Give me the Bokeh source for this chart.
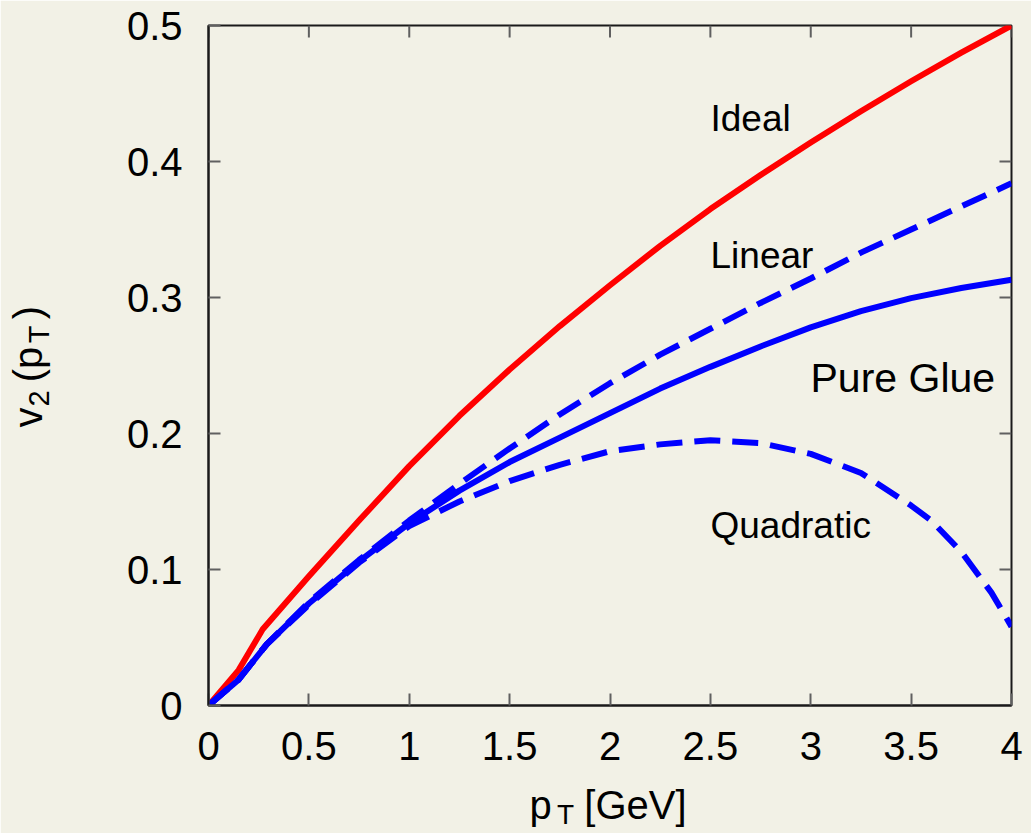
from bokeh.plotting import figure
from bokeh.models import Range1d, FixedTicker, LinearAxis, Label
from bokeh.embed import file_html
from bokeh.resources import INLINE

# ---------------- data ----------------
ideal_x = [0, 0.15, 0.27, 0.5, 0.75, 1.0, 1.25, 1.5, 1.75, 2.0, 2.25, 2.5, 2.75, 3.0, 3.25, 3.5, 3.75, 4.0]
ideal_y = [0, 0.026, 0.056, 0.095, 0.136, 0.176, 0.213, 0.247, 0.279, 0.309, 0.338, 0.365, 0.390, 0.414, 0.437, 0.459, 0.480, 0.500]

linear_x = [0, 0.15, 0.29, 0.5, 0.75, 1.0, 1.25, 1.5, 1.75, 2.0, 2.25, 2.5, 2.75, 3.0, 3.25, 3.5, 3.75, 4.0]
linear_y = [0, 0.019, 0.045, 0.076, 0.107, 0.136, 0.163, 0.189, 0.214, 0.237, 0.258, 0.277, 0.296, 0.314, 0.333, 0.350, 0.367, 0.384]

glue_x = [0, 0.15, 0.29, 0.5, 0.75, 1.0, 1.25, 1.5, 1.75, 2.0, 2.25, 2.5, 2.75, 3.0, 3.25, 3.5, 3.75, 4.0]
glue_y = [0, 0.019, 0.045, 0.075, 0.106, 0.134, 0.158, 0.179, 0.197, 0.215, 0.233, 0.249, 0.264, 0.278, 0.290, 0.2995, 0.307, 0.313]

quad_x = [0, 0.15, 0.29, 0.5, 0.75, 1.0, 1.25, 1.5, 1.75, 2.0, 2.25, 2.5, 2.75, 3.0, 3.25, 3.5, 3.6, 3.75, 3.9, 4.0]
quad_y = [0, 0.019, 0.045, 0.074, 0.105, 0.132, 0.150, 0.165, 0.177, 0.187, 0.192, 0.195, 0.193, 0.185, 0.171, 0.147, 0.136, 0.113, 0.083, 0.058]

x_ticks = [0, 0.5, 1, 1.5, 2, 2.5, 3, 3.5, 4]
x_tick_labels = ["0", "0.5", "1", "1.5", "2", "2.5", "3", "3.5", "4"]
y_ticks = [0, 0.1, 0.2, 0.3, 0.4, 0.5]
y_tick_labels = ["0", "0.1", "0.2", "0.3", "0.4", "0.5"]

series_names = ["Ideal", "Linear", "Pure Glue", "Quadratic"]

# axis titles, split into normal-size and subscript pieces
x_title_main = ["p", "[GeV]"]
x_title_sub = ["T"]
y_title_main = ["v", "(p", ")"]
y_title_sub = ["2", "T"]

# ---------------- styling / layout ----------------
BG = "#f2f1e6"
FONT = "Liberation Sans"
FRAME = "#1a1a1a"
TICK = "#606060"

W, H = 1031, 833
L, R, T, B = 208, 20, 25, 128
X0, X1, Y0, Y1 = 0, 4, 0, 0.5
fw = W - L - R
fh = H - T - B


def dx(px):
    return X0 + (px - L) / fw * (X1 - X0)


def dy(py):
    return Y0 + (H - B - py) / fh * (Y1 - Y0)


p = figure(width=W, height=H, x_range=Range1d(X0, X1), y_range=Range1d(Y0, Y1),
           output_backend="svg", toolbar_location=None,
           min_border_left=L, min_border_right=R, min_border_top=T, min_border_bottom=B,
           background_fill_color=BG, border_fill_color=BG)
p.xgrid.visible = False
p.ygrid.visible = False
p.outline_line_color = FRAME
p.outline_line_width = 2


def style_axis(ax, ticks, labels):
    ax.ticker = FixedTicker(ticks=ticks, minor_ticks=[])
    ax.major_label_overrides = {t: l for t, l in zip(ticks, labels)}
    ax.axis_line_color = FRAME
    ax.axis_line_width = 2
    ax.major_tick_line_color = TICK
    ax.major_tick_line_width = 2
    ax.major_tick_in = 12
    ax.major_tick_out = 0
    ax.minor_tick_line_color = None
    ax.minor_tick_out = 0
    ax.major_label_text_font = FONT
    ax.major_label_text_color = "black"
    ax.major_label_text_font_size = "40px"


style_axis(p.xaxis[0], x_ticks, x_tick_labels)
style_axis(p.yaxis[0], y_ticks, y_tick_labels)
p.xaxis[0].major_label_standoff = 26
p.yaxis[0].major_label_standoff = 26


def title_axis(positions, texts, size, standoff, orientation="horizontal"):
    ax = LinearAxis(ticker=FixedTicker(ticks=positions, minor_ticks=[]))
    ax.major_label_overrides = {t: s for t, s in zip(positions, texts)}
    ax.axis_line_color = None
    ax.major_tick_line_color = None
    ax.minor_tick_line_color = None
    ax.major_tick_in = 0
    ax.major_tick_out = 0
    ax.minor_tick_out = 0
    ax.major_label_text_font = FONT
    ax.major_label_text_font_size = f"{size}px"
    ax.major_label_text_color = "black"
    ax.major_label_standoff = standoff
    ax.major_label_orientation = orientation
    return ax


# x title: "p_T [GeV]" (centres of each piece in pixels)
p.add_layout(title_axis([dx(565)], x_title_sub, 28, 36), "below")
p.add_layout(title_axis([dx(540), dx(635)], x_title_main, 40, -50), "below")

# y title: "v_2 (p_T)" reading upwards
p.add_layout(title_axis([dy(417), dy(364), dy(312)], y_title_main, 40, 74, "vertical"), "left")
p.add_layout(title_axis([dy(398), dy(334)], y_title_sub, 29, -52, "vertical"), "left")

# mirrored inward ticks on the top and right frame edges
tick_dx = 12 * (X1 - X0) / fw
tick_dy = 12 * (Y1 - Y0) / fh
p.segment(x0=x_ticks, y0=[Y1] * len(x_ticks), x1=x_ticks, y1=[Y1 - tick_dy] * len(x_ticks),
          line_color=TICK, line_width=2)
p.segment(x0=[X1] * len(y_ticks), y0=y_ticks, x1=[X1 - tick_dx] * len(y_ticks), y1=y_ticks,
          line_color=TICK, line_width=2)

# ---------------- curves ----------------
p.line(ideal_x, ideal_y, line_color="#ff0000", line_width=6, line_join="round")
p.line(glue_x, glue_y, line_color="#0000ff", line_width=6, line_join="round")
p.line(linear_x, linear_y, line_color="#0000ff", line_width=6, line_dash="26 12")
p.line(quad_x, quad_y, line_color="#0000ff", line_width=6, line_dash="26 12")


def txt(s, px, py, size):
    p.add_layout(Label(x=dx(px), y=dy(py), text=s, text_font=FONT,
                       text_font_size=f"{size}px", text_color="black",
                       text_align="left", text_baseline="alphabetic"))


# curve labels
txt(series_names[0], 710, 118, 37)
txt(series_names[1], 710, 255, 37)
txt(series_names[2], 810, 377, 41)
txt(series_names[3], 710, 525, 37)

open("out.html", "w").write(file_html(p, INLINE))
